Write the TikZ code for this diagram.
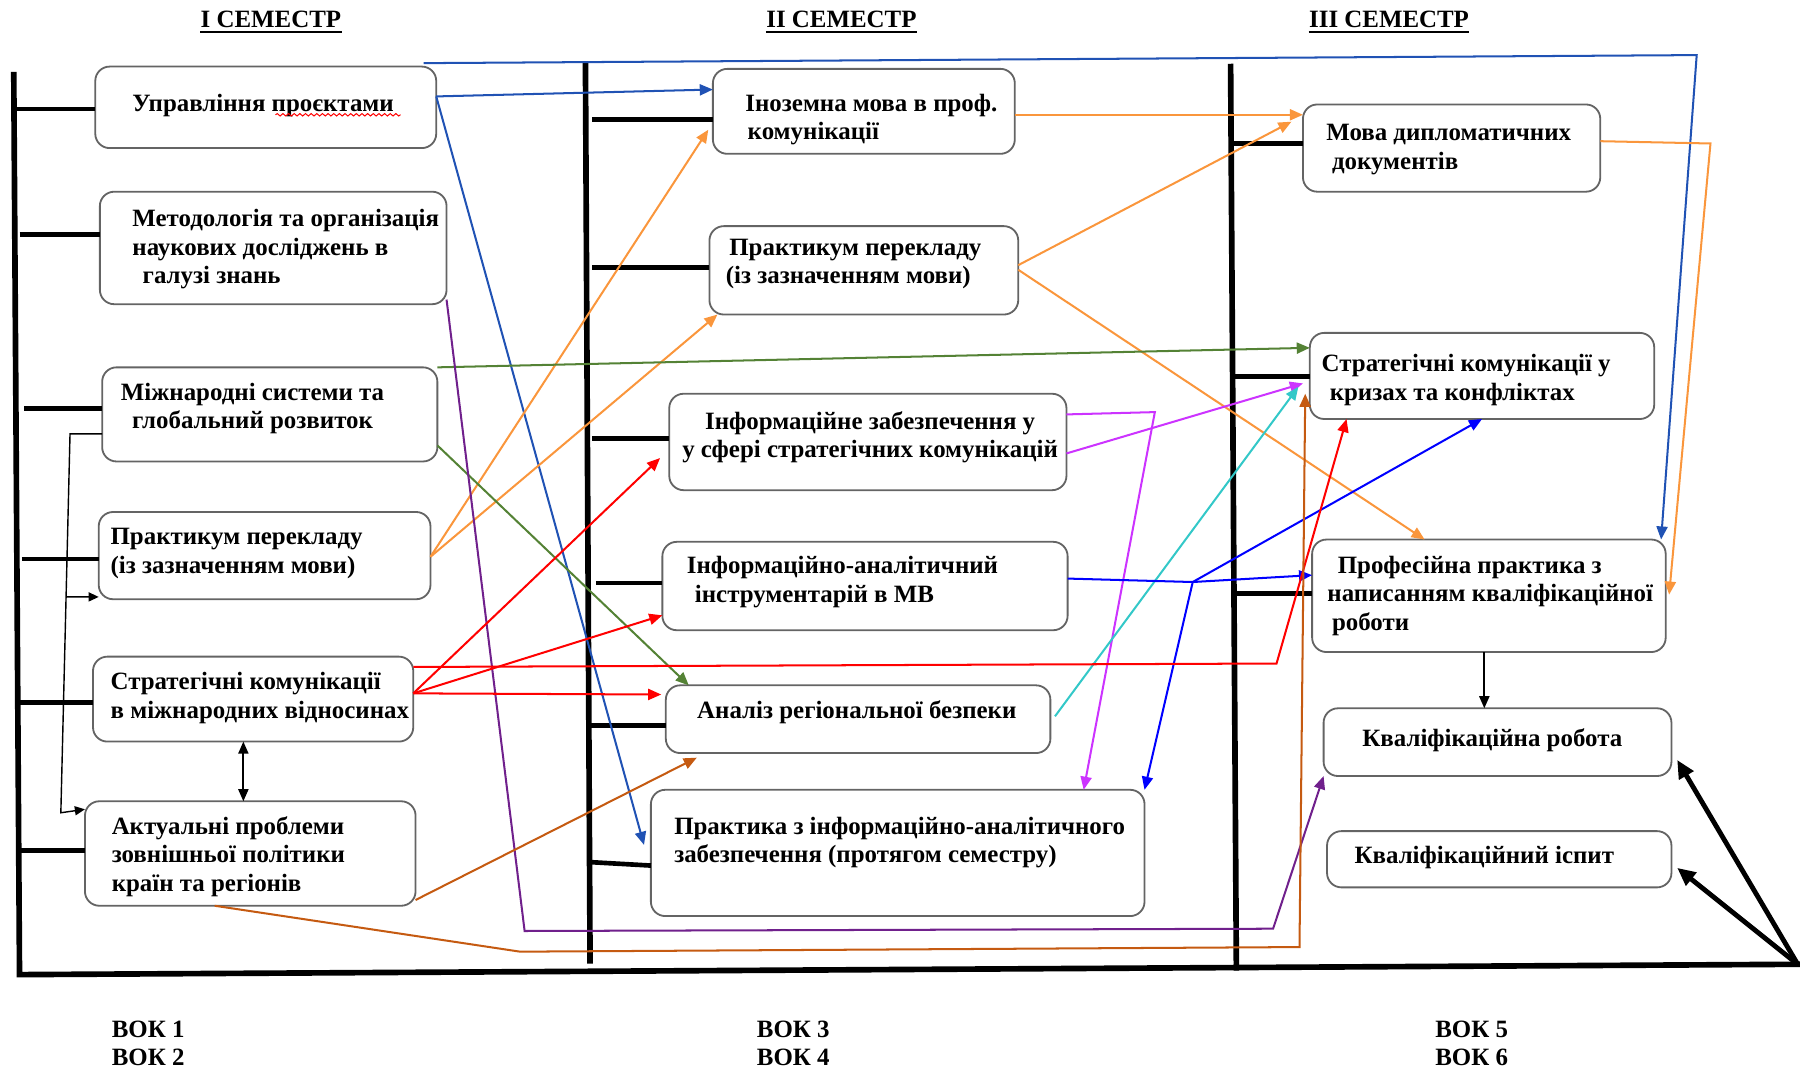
\documentclass[tikz,border=0pt]{standalone}
\usepackage{fontspec}
\setmainfont{Liberation Serif}
\usetikzlibrary{arrows.meta,calc,decorations.pathmorphing}
\definecolor{boxgray}{RGB}{100,100,100}
\definecolor{cdkblue}{RGB}{32,82,180}
\definecolor{corange}{RGB}{250,150,60}
\definecolor{cgreen}{RGB}{84,130,53}
\definecolor{cpurple}{RGB}{112,32,140}
\definecolor{cmagenta}{RGB}{204,51,255}
\definecolor{ccyan}{RGB}{51,200,200}
\definecolor{cblue}{RGB}{0,0,255}
\definecolor{cred}{RGB}{255,0,0}
\definecolor{cbrown}{RGB}{197,90,17}
\newcommand\mkbox[5]{\node[mybox, minimum width={(#4-#2)*0.02cm}, minimum height={(#5-#3)*0.02cm}] (#1) at ({(#2+#4)/2},{(#3+#5)/2}) {};}
\begin{document}
\begin{tikzpicture}[x=0.02cm, y=-0.02cm,
  mybox/.style={draw=boxgray, line width=0.9pt, rounded corners=0.25cm, fill=white, inner sep=0pt, outer sep=0pt},
  mytxt/.style={font=\fontsize{12.35}{14.2}\selectfont\bfseries, inner sep=0pt, align=left, anchor=west, yshift=-2*0.02cm},
  myctxt/.style={font=\fontsize{12.35}{14.2}\selectfont\bfseries, inner sep=0pt, align=center, yshift=-2*0.02cm},
  myframe/.style={line width=2.8pt, line cap=rect},
  mytick/.style={line width=2.3pt},
  mycon/.style={line width=1pt},
  myarr/.style={-{Triangle[length=6.5pt,width=5.5pt]}},
  mysmall/.style={line width=0.7pt, -{Triangle[length=5pt,width=4.5pt]}},
  mybig/.style={line width=2.4pt, -{Triangle[length=9pt,width=8pt]}}]
\useasboundingbox (0,0) rectangle (1568,932);

% frame
\coordinate (BR) at (1566,840);
\draw[myframe] (12,65) -- (17,849) -- (BR);
\draw[myframe] (510,57) -- (514,837);
\draw[myframe] (1072,58) -- (1077,843);

% titles
\node[myctxt] (h1) at (236,15) {І СЕМЕСТР};
\node[myctxt] (h2) at (733,15) {ІІ СЕМЕСТР};
\node[myctxt] (h3) at (1210,15) {ІІІ СЕМЕСТР};
\foreach \h in {h1,h2,h3}{\draw[line width=1.1pt] ($(\h.south west)+(0,3)$) -- ($(\h.south east)+(0,3)$);}

% boxes
\mkbox{s1a}{83}{58}{380}{129}
\mkbox{s1b}{87}{167}{389}{265}
\mkbox{s1c}{89}{320}{381}{402}
\mkbox{s1d}{86}{446}{375}{522}
\mkbox{s1e}{81}{572}{360}{646}
\mkbox{s1f}{74}{698}{362}{789}
\mkbox{s2a}{621}{60}{884}{134}
\mkbox{s2b}{618}{197}{887}{274}
\mkbox{s2c}{583}{343}{929}{427}
\mkbox{s2d}{577}{472}{930}{549}
\mkbox{s2e}{580}{597}{915}{656}
\mkbox{s2f}{567}{688}{997}{798}
\mkbox{s3a}{1135}{91}{1394}{167}
\mkbox{s3b}{1141}{290}{1441}{365}
\mkbox{s3c}{1143}{470}{1451}{568}
\mkbox{s3d}{1153}{617}{1456}{676}
\mkbox{s3e}{1156}{724}{1456}{773}

% ticks
\draw[mytick] (13,95) -- (s1a.west |- 0,95);
\draw[mytick] (17,204) -- (s1b.west |- 0,204);
\draw[mytick] (21,356) -- (s1c.west |- 0,356);
\draw[mytick] (19,487) -- (s1d.west |- 0,487);
\draw[mytick] (16,612) -- (s1e.west |- 0,612);
\draw[mytick] (17,741) -- (s1f.west |- 0,741);
\draw[mytick] (516,104) -- (s2a.west |- 0,104);
\draw[mytick] (516,233) -- (s2b.west |- 0,233);
\draw[mytick] (516,382) -- (s2c.west |- 0,382);
\draw[mytick] (519,508) -- (s2d.west |- 0,508);
\draw[mytick] (514,632) -- (s2e.west |- 0,632);
\draw[mytick] (514,751) -- (s2f.west |- 0,754);
\draw[mytick] (1073,125) -- (s3a.west |- 0,125);
\draw[mytick] (1076,328) -- (s3b.west |- 0,328);
\draw[mytick] (1077,517) -- (s3c.west |- 0,517);

% texts
\node[mytxt] (t1a) at (115,90) {Управління проєктами};
\draw[cred, line width=0.5pt, decorate, decoration={snake, amplitude=0.6pt, segment length=2.8pt}] (240,100) -- (349,100);
\node[mytxt] (t1b) at (115,215) {Методологія та організація\\наукових досліджень в\\\hspace*{0.18cm}галузі знань};
\node[myctxt] (t1c) at (220,354) {Міжнародні системи та\\глобальний розвиток};
\node[mytxt] (t1d) at (96,480) {Практикум перекладу\\(із зазначенням мови)};
\node[mytxt] (t1e) at (96,606) {Стратегічні комунікації\\в міжнародних відносинах};
\node[mytxt] (t1f) at (97,744) {Актуальні проблеми\\зовнішньої політики\\країн та регіонів};
\node[mytxt] (t2a) at (649,102) {Іноземна мова в проф.\\\hspace*{0.04cm}комунікації};
\node[mytxt] (t2b) at (632,228) {\hspace*{0.06cm}Практикум перекладу\\(із зазначенням мови)};
\node[myctxt] (t2c) at (758,379) {Інформаційне забезпечення у\\у сфері стратегічних комунікацій};
\node[mytxt] (t2d) at (598,505) {Інформаційно-аналітичний\\\hspace*{0.14cm}інструментарій в МВ};
\node[mytxt] (t2e) at (607,618) {Аналіз регіональної безпеки};
\node[mytxt] (t2f) at (587,732) {Практика з інформаційно-аналітичного\\забезпечення (протягом семестру)};
\node[mytxt] (t3a) at (1155,128) {Мова дипломатичних\\\hspace*{0.1cm}документів};
\node[mytxt] (t3b) at (1151,329) {Стратегічні комунікації у\\\hspace*{0.14cm}кризах та конфліктах};
\node[mytxt] (t3c) at (1156,517) {\hspace*{0.18cm}Професійна практика з\\написанням кваліфікаційної\\\hspace*{0.08cm}роботи};
\node[myctxt] (t3d) at (1300,643) {Кваліфікаційна робота};
\node[myctxt] (t3e) at (1293,745) {Кваліфікаційний іспит};

\node[mytxt] (v1) at (97,907) {ВОК 1\\ВОК 2};
\node[mytxt] (v2) at (659,907) {ВОК 3\\ВОК 4};
\node[mytxt] (v3) at (1250,907) {ВОК 5\\ВОК 6};

% bend coordinates
\coordinate (ub1) at (369,55);
\coordinate (ub2) at (1478,48);
\coordinate (om1) at (1490,125);
\coordinate (pl1) at (457,811);
\coordinate (pl2) at (1109,809);
\coordinate (mg1) at (1006,359);
\coordinate (bj) at (1039,507);
\coordinate (rd1) at (1112,578);
\coordinate (bw1) at (453,829);
\coordinate (bw2) at (1132,825);
\coordinate (bw3) at (1137,343);
\coordinate (bk1) at (61,378);
\coordinate (bk2) at (53,708);

% dark blue
\draw[mycon, cdkblue, myarr] (s1a.east |- 0,84) -- (s2a.west |- 0,78);
\draw[mycon, cdkblue, myarr] (s1a.east |- 0,84) -- ($(s2f.west |- 0,736)+(-6,0)$);
\draw[mycon, cdkblue, myarr] (ub1) -- (ub2) -- (s3c.north -| 1447,0);
% orange
\draw[mycon, corange, myarr] (s1d.east |- 0,485) -- ($(s2a.west |- 0,113)+(-4,0)$);
\draw[mycon, corange, myarr] (s1d.east |- 0,485) -- (s2b.south -| 625,0);
\draw[mycon, corange, myarr] (s2a.east |- 0,100) -- (s3a.west |- 0,100);
\draw[mycon, corange, myarr] (s2b.east |- 0,231) -- ($(s3a.west |- 0,106)+(-10,0)$);
\draw[mycon, corange, myarr] (s2b.east |- 0,235) -- (s3c.north -| 1241,0);
\draw[mycon, corange, myarr] (s3a.east |- 0,123) -- (om1) -- ($(s3c.east |- 0,518)+(3,0)$);
% green
\draw[mycon, cgreen, myarr] (s1c.north east) -- (s3b.west |- 0,303);
\draw[mycon, cgreen, myarr] (s1c.east |- 0,388) -- (s2e.north -| 600,0);
% purple
\draw[mycon, cpurple, myarr] (s1b.east |- 0,261) -- (pl1) -- (pl2) -- (s3d.south west);
% magenta
\draw[mycon, cmagenta, myarr] (s2c.east |- 0,361) -- (mg1) -- (s2f.north -| 944,0);
\draw[mycon, cmagenta, myarr] (s2c.east |- 0,395) -- ($(s3b.west |- 0,334)+(-6,0)$);
% cyan
\draw[mycon, ccyan, myarr] ($(s2e.east |- 0,624)+(4,0)$) -- ($(s3b.west |- 0,337)+(-10,0)$);
% bright blue
\draw[mycon, cblue] (s2d.east |- 0,504) -- (bj);
\draw[mycon, cblue, myarr] (bj) -- (s3c.west |- 0,501);
\draw[mycon, cblue, myarr] (bj) -- (s3b.south -| 1291,0);
\draw[mycon, cblue, myarr] (bj) -- (s2f.north east);
% red
\draw[mycon, cred, myarr] (s1e.east |- 0,604) -- ($(s2c.west |- 0,399)+(-8,0)$);
\draw[mycon, cred, myarr] (s1e.east |- 0,604) -- (s2d.west |- 0,536);
\draw[mycon, cred, myarr] (s1e.east |- 0,604) -- ($(s2e.west |- 0,605)+(-4,0)$);
\draw[mycon, cred, myarr] (s1e.east |- 0,581) -- (rd1) -- (s3b.south -| 1173,0);
% brown
\draw[mycon, cbrown, myarr] (s1f.east |- 0,784) -- ($(s2e.south -| 607,0)+(0,4)$);
\draw[mycon, cbrown, myarr] (s1f.south -| 187,0) -- (bw1) -- (bw2) -- (bw3);
% black
\draw[mysmall] (s1c.west |- 0,378) -- (bk1) -- (bk2) -- (s1f.west |- 0,705);
\draw[mysmall] ($(bk1)!0.43!(bk2)$) -- (s1d.west |- 0,520);
\draw[line width=0.9pt, {Triangle[length=6pt,width=5pt]}-{Triangle[length=6pt,width=5pt]}] (s1e.south -| 212,0) -- (s1f.north -| 212,0);
\draw[line width=0.9pt, -{Triangle[length=6pt,width=5pt]}] (s3c.south -| 1293,0) -- (s3d.north -| 1293,0);
\draw[mybig] (BR) -- ($(s3d.east |- 0,662)+(5,0)$);
\draw[mybig] (BR) -- ($(s3e.east |- 0,756)+(5,0)$);
\end{tikzpicture}
\end{document}
